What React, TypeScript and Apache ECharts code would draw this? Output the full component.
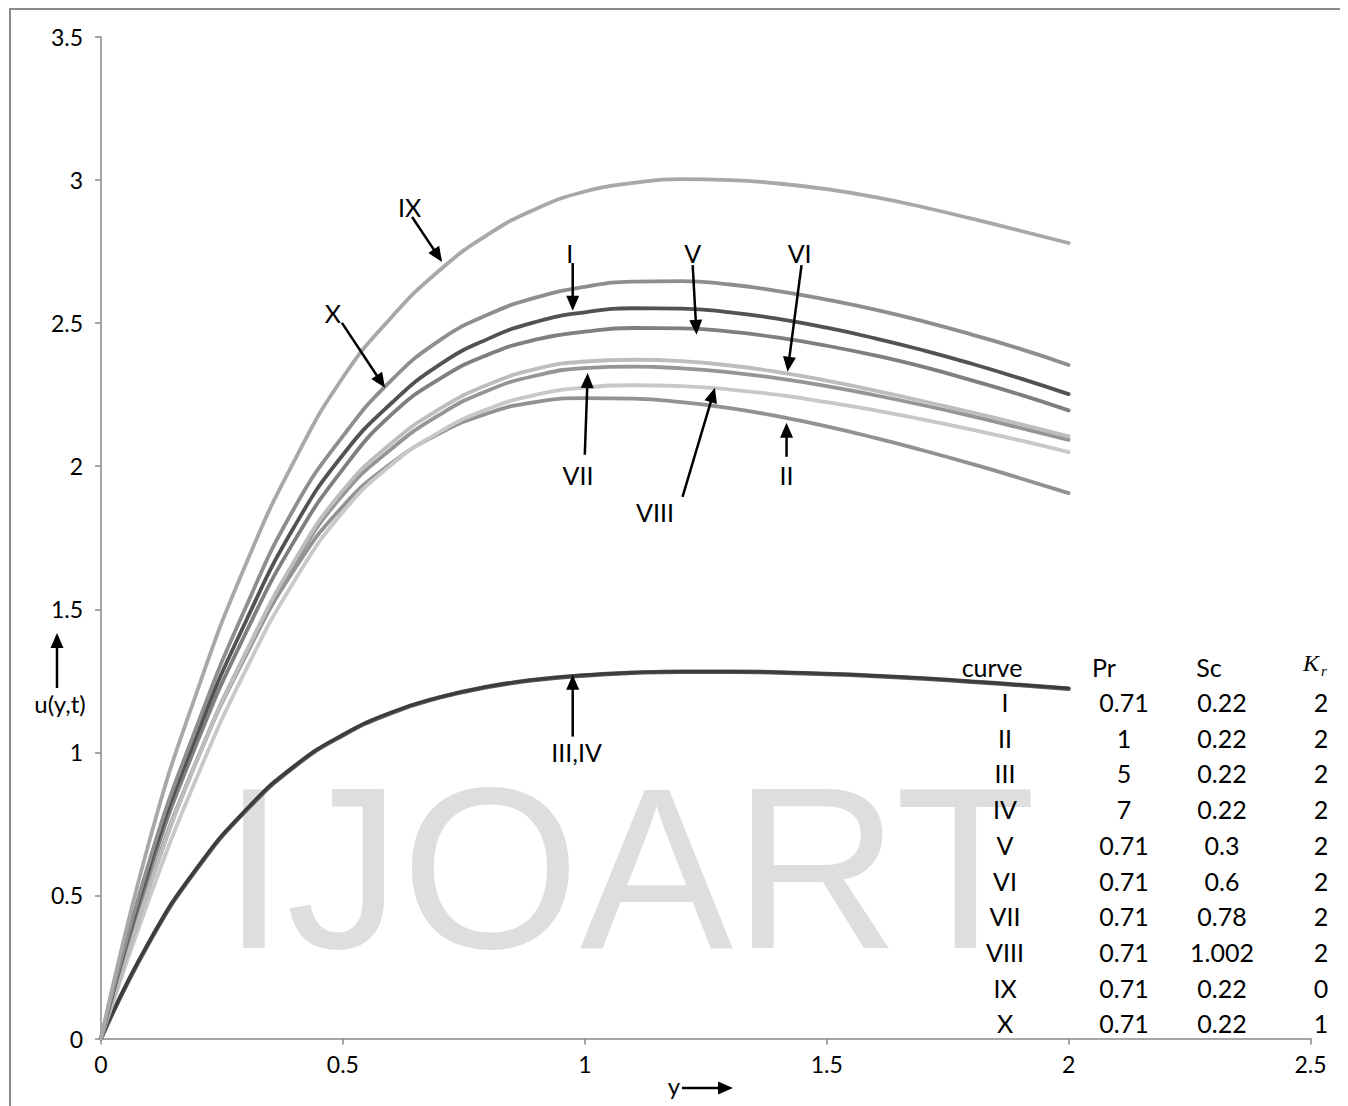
import React, { useEffect, useRef } from "react";
import * as echarts from "echarts";

// ---------------- data ----------------
const xValues = [0, 0.1, 0.2, 0.3, 0.4, 0.5, 0.6, 0.7, 0.8, 0.9, 1.0, 1.1, 1.2, 1.3, 1.4, 1.5, 1.6, 1.7, 1.8, 1.9, 2.0];

const curveI = [0, 0.60, 1.07, 1.46, 1.79, 2.04, 2.22, 2.355, 2.445, 2.505, 2.538, 2.552, 2.551, 2.538, 2.515, 2.484, 2.447, 2.405, 2.358, 2.307, 2.252];
const curveII = [0, 0.54, 0.98, 1.34, 1.64, 1.86, 2.01, 2.115, 2.185, 2.225, 2.238, 2.236, 2.224, 2.203, 2.174, 2.139, 2.099, 2.055, 2.008, 1.958, 1.906];
const curveIII = [0, 0.34, 0.60, 0.80, 0.953, 1.062, 1.14, 1.193, 1.23, 1.255, 1.27, 1.279, 1.283, 1.283, 1.28, 1.275, 1.268, 1.259, 1.248, 1.236, 1.224];
const curveIV = [0, 0.338, 0.598, 0.798, 0.951, 1.06, 1.138, 1.192, 1.229, 1.254, 1.269, 1.278, 1.282, 1.282, 1.279, 1.274, 1.267, 1.258, 1.247, 1.235, 1.222];
const curveV = [0, 0.58, 1.04, 1.42, 1.74, 1.99, 2.18, 2.305, 2.39, 2.443, 2.47, 2.483, 2.482, 2.47, 2.449, 2.421, 2.387, 2.347, 2.30, 2.25, 2.195];
const curveVI = [0, 0.53, 0.98, 1.35, 1.67, 1.915, 2.08, 2.20, 2.285, 2.34, 2.366, 2.372, 2.367, 2.352, 2.329, 2.299, 2.264, 2.227, 2.188, 2.147, 2.104];
const curveVII = [0, 0.53, 0.98, 1.35, 1.66, 1.90, 2.06, 2.18, 2.265, 2.317, 2.343, 2.348, 2.342, 2.328, 2.307, 2.28, 2.248, 2.213, 2.175, 2.134, 2.092];
const curveVIII = [0, 0.49, 0.92, 1.29, 1.60, 1.84, 2.005, 2.12, 2.20, 2.25, 2.275, 2.283, 2.28, 2.268, 2.249, 2.224, 2.195, 2.163, 2.128, 2.09, 2.049];
const curveIX = [0, 0.69, 1.22, 1.66, 2.02, 2.31, 2.52, 2.685, 2.81, 2.90, 2.96, 2.99, 3.003, 3.0, 2.988, 2.968, 2.94, 2.905, 2.865, 2.823, 2.78];
const curveX = [0, 0.62, 1.10, 1.51, 1.855, 2.105, 2.30, 2.44, 2.53, 2.59, 2.627, 2.645, 2.647, 2.635, 2.612, 2.582, 2.547, 2.506, 2.46, 2.41, 2.354];

const curveNames = ["I", "II", "III", "IV", "V", "VI", "VII", "VIII", "IX", "X"];
const prValues = ["0.71", "1", "5", "7", "0.71", "0.71", "0.71", "0.71", "0.71", "0.71"];
const scValues = ["0.22", "0.22", "0.22", "0.22", "0.3", "0.6", "0.78", "1.002", "0.22", "0.22"];
const krValues = ["2", "2", "2", "2", "2", "2", "2", "2", "0", "1"];

const yTicks = [0, 0.5, 1, 1.5, 2, 2.5, 3, 3.5];
const xTicks = [0, 0.5, 1, 1.5, 2, 2.5];

// curve annotation labels: text position and arrow (data coordinates)
const annotationLabels = ["IX", "X", "I", "V", "VI", "VII", "VIII", "II", "III,IV"];
const annotationText = [[0.638, 2.906], [0.479, 2.536], [0.969, 2.745], [1.223, 2.745], [1.444, 2.745], [0.986, 1.97], [1.145, 1.841], [1.417, 1.97], [0.983, 1.0]];
const annotationFrom = [[0.643, 2.871], [0.498, 2.501], [0.975, 2.71], [1.223, 2.703], [1.448, 2.703], [1.0, 2.04], [1.202, 1.893], [1.417, 2.033], [0.975, 1.055]];
const annotationTo = [[0.705, 2.714], [0.587, 2.274], [0.975, 2.543], [1.231, 2.459], [1.419, 2.33], [1.006, 2.326], [1.269, 2.274], [1.417, 2.152], [0.975, 1.271]];

const seriesDefs = [
  { name: "IV", data: curveIV, color: "#5a5a5a", width: 4.5 },
  { name: "III", data: curveIII, color: "#3c3c3c", width: 3 },
  { name: "II", data: curveII, color: "#929292", width: 3.8 },
  { name: "VIII", data: curveVIII, color: "#c8c8c8", width: 3.8 },
  { name: "VII", data: curveVII, color: "#959595", width: 3.8 },
  { name: "VI", data: curveVI, color: "#bdbdbd", width: 3.8 },
  { name: "V", data: curveV, color: "#7f7f7f", width: 3.8 },
  { name: "I", data: curveI, color: "#525252", width: 3.8 },
  { name: "X", data: curveX, color: "#8e8e8e", width: 3.8 },
  { name: "IX", data: curveIX, color: "#a8a8a8", width: 3.8 },
];

const FONT = "Lato, 'Open Sans', sans-serif";

function arrow(x1: number, y1: number, x2: number, y2: number) {
  const dx = x2 - x1;
  const dy = y2 - y1;
  const len = Math.hypot(dx, dy) || 1;
  const ux = dx / len;
  const uy = dy / len;
  const head = 15;
  const hw = 6.5;
  const bx = x2 - ux * head;
  const by = y2 - uy * head;
  return [
    {
      type: "line",
      z: 10,
      shape: { x1, y1, x2: bx + ux * 2, y2: by + uy * 2 },
      style: { stroke: "#000", lineWidth: 2.5 },
    },
    {
      type: "polygon",
      z: 10,
      shape: {
        points: [
          [x2, y2],
          [bx - uy * hw, by + ux * hw],
          [bx + uy * hw, by - ux * hw],
        ],
      },
      style: { fill: "#000" },
    },
  ];
}

function txt(text: string, x: number, y: number, size: number, extra: any = {}) {
  return {
    type: "text",
    z: 10,
    x,
    y,
    style: {
      text,
      fontSize: size,
      fontFamily: FONT,
      fill: "#000",
      align: "center",
      verticalAlign: "middle",
      textAlign: "center",
      textVerticalAlign: "middle",
      ...extra,
    },
  };
}

export default function App() {
  const ref = useRef<HTMLDivElement>(null);

  useEffect(() => {
    if (!ref.current) return;
    const chart = echarts.init(ref.current, null, { renderer: "svg" });

    const axisStyle = { lineStyle: { color: "#8a8a8a", width: 1.5 } };

    const option: any = {
      animation: false,
      backgroundColor: "#ffffff",
      grid: { left: 93, top: 29, right: 37.5, bottom: 67.5, containLabel: false },
      xAxis: {
        type: "value",
        min: xTicks[0],
        max: xTicks[xTicks.length - 1],
        interval: 0.5,
        axisLine: { show: true, onZero: false, ...axisStyle },
        axisTick: { show: true, inside: false, length: 6, ...axisStyle },
        splitLine: { show: false },
        axisLabel: { margin: 14, fontSize: 23, fontFamily: FONT, color: "#000" },
      },
      yAxis: {
        type: "value",
        min: yTicks[0],
        max: yTicks[yTicks.length - 1],
        interval: 0.5,
        axisLine: { show: true, onZero: false, ...axisStyle },
        axisTick: { show: true, inside: false, length: 6, ...axisStyle },
        splitLine: { show: false },
        axisLabel: { margin: 18, fontSize: 23, fontFamily: FONT, color: "#000" },
      },
      series: seriesDefs.map((s) => ({
        type: "line",
        name: s.name,
        data: xValues.map((x, i) => [x, s.data[i]]),
        showSymbol: false,
        symbol: "none",
        smooth: 0.5,
        z: 3,
        lineStyle: { color: s.color, width: s.width, cap: "round", join: "round" },
      })),
    };

    chart.setOption(option);

    const px = (p: number[]) => chart.convertToPixel({ gridIndex: 0 }, p) as number[];

    const graphics: any[] = [];

    // outer frame
    graphics.push({
      type: "polyline",
      z: 20,
      shape: { points: [[2, 1110], [2, 1], [1335, 1], [1335, 1110]] },
      style: { stroke: "#8a8a8a", lineWidth: 2, fill: null },
    });

    // watermark
    graphics.push({
      type: "text",
      z: 1,
      x: 214,
      y: 860,
      style: {
        text: "IJOART",
        fontSize: 230,
        fontFamily: "'Liberation Sans', Arial, sans-serif",
        fill: "#dedede",
        align: "left",
        verticalAlign: "middle",
        textAlign: "left",
        textVerticalAlign: "middle",
      },
    });

    // curve annotations
    annotationLabels.forEach((label, i) => {
      const t = px(annotationText[i]);
      const f = px(annotationFrom[i]);
      const to = px(annotationTo[i]);
      graphics.push(txt(label, t[0], t[1], 25));
      graphics.push(...arrow(f[0], f[1], to[0], to[1]));
    });

    // axis names with arrows
    graphics.push(txt("u(y,t)", 52, 695, 24));
    graphics.push(...arrow(49, 680, 49, 625));
    graphics.push(txt("y", 666, 1077, 24));
    graphics.push(...arrow(674, 1080, 725, 1080));

    // parameter table
    const colCurve = 997;
    const colPr = 1116;
    const colSc = 1214;
    const colKr = 1313;
    const headerY = 659;
    const row0 = 694;
    const rowStep = 35.7;
    graphics.push(txt("curve", 984, headerY, 25));
    graphics.push(txt("Pr", 1096, headerY, 25));
    graphics.push(txt("Sc", 1201, headerY, 25));
    graphics.push({
      type: "text",
      z: 10,
      x: 1303,
      y: 655,
      style: {
        text: "K",
        fontSize: 24,
        fontFamily: "'Liberation Serif', 'DejaVu Serif', serif",
        fontStyle: "italic",
        fill: "#000",
        align: "center",
        verticalAlign: "middle",
        textAlign: "center",
        textVerticalAlign: "middle",
      },
    });
    graphics.push({
      type: "text",
      z: 10,
      x: 1316,
      y: 663,
      style: {
        text: "r",
        fontSize: 15,
        fontFamily: "'Liberation Serif', 'DejaVu Serif', serif",
        fontStyle: "italic",
        fill: "#000",
        align: "center",
        verticalAlign: "middle",
        textAlign: "center",
        textVerticalAlign: "middle",
      },
    });
    curveNames.forEach((name, i) => {
      const y = row0 + rowStep * i;
      graphics.push(txt(name, colCurve, y, 25));
      graphics.push(txt(prValues[i], colPr, y, 25));
      graphics.push(txt(scValues[i], colSc, y, 25));
      graphics.push(txt(krValues[i], colKr, y, 25));
    });

    chart.setOption({ graphic: graphics });

    return () => {
      chart.dispose();
    };
  }, []);

  return <div ref={ref} style={{ width: 1340, height: 1098 }} />;
}
